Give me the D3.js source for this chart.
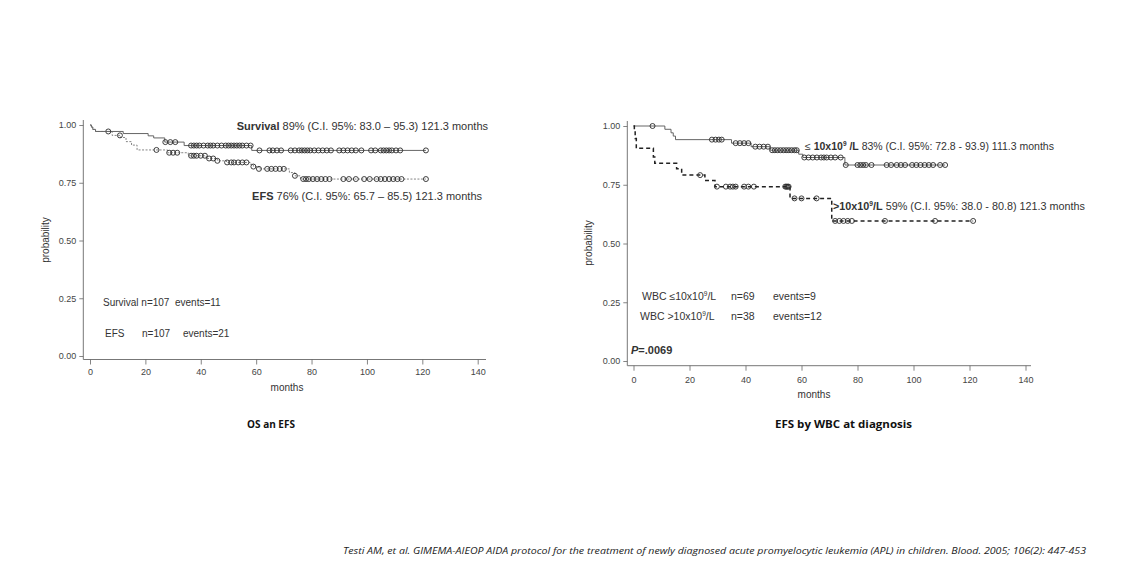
<!DOCTYPE html>
<html lang="en">
<head>
<meta charset="UTF-8">
<title>OS and EFS - AIDA protocol</title>
<style>
    body { margin: 0; background: #fff; }
    svg { display: block; }
    text { font-family: "Liberation Sans", Arial, sans-serif; fill: #333; }
    .tick text { font-size: 9px; fill: #444; }
    .tick line { stroke: #666; stroke-width: 0.8px; }
    .axis-line { stroke: #777; stroke-width: 1px; }
    .censor { fill: none; stroke: #2a2a2a; stroke-width: 0.9px; }
    .caption { font-family: "Open Sans", sans-serif; font-weight: bold; font-size: 10px; fill: #111; }
</style>
</head>
<body>
<svg id="chart" width="1131" height="579"></svg>
<script src="https://d3js.org/d3.v7.min.js"></script>
<script>
// ---- data ----
const xTicks = [0, 20, 40, 60, 80, 100, 120, 140];
const yTicks = [0, 0.25, 0.5, 0.75, 1];

// left panel: OS and EFS, all patients
const survTimes = [0, 0.5, 1, 2, 12, 21, 23, 27, 34, 58.4, 121.3];
const survProb  = [1, .991, .981, .972, .963, .953, .944, .926, .911, .89, .89];
const survCensor = [6.6, 27.2, 29, 30.8, 36.5, 37.5, 38.5, 39.5, 41, 42.5, 43.5, 44.5, 46, 47.5, 49, 50,
    51, 52, 53, 54, 55, 56.5, 58, 61.2, 64.8, 66, 67.5, 69, 72.5, 74, 75.5, 76.5, 77.5, 78.5, 79.5, 81,
    82.5, 84, 85.5, 87, 90, 91.5, 93, 94.5, 96, 98, 101.5, 103, 105, 106, 107, 108, 109, 110.5, 112, 121.3];

const efsTimes = [0, 0.5, 1, 2, 8, 11, 13, 15, 17, 28, 35.5, 42, 46, 49.3, 57.8, 59, 61, 72, 74, 76, 121.3];
const efsProb  = [1, .991, .981, .972, .955, .946, .928, .913, .892, .88, .867, .855, .845, .838, .83, .82,
    .81, .794, .78, .766, .766];
const efsCensor = [10.8, 24, 28.6, 30, 31.5, 36.5, 37.5, 38.5, 40, 41.5, 43, 44.5, 46, 49.5, 51, 52, 53.5,
    55, 56.5, 59, 61, 64, 65.5, 67, 68.5, 70, 74, 77, 78, 79, 80.5, 82, 83.5, 85, 86.5, 91.5, 93.5, 96, 99,
    101, 103.5, 105, 106.5, 108, 109.5, 111, 112.5, 121.3];

// right panel: EFS by WBC at diagnosis
const lowTimes = [0, 11.2, 13.4, 14.2, 15, 35, 42, 48.8, 59, 60.5, 75.5, 111.3];
const lowProb  = [1, .986, .971, .957, .942, .927, .912, .897, .88, .866, .834, .834];
const lowCensor = [6.8, 28, 29.3, 30.5, 31.5, 36.5, 38, 39.5, 41, 43.5, 45, 46.5, 48, 49.5, 50.5, 51.5,
    52.5, 53.5, 54.5, 55.5, 56.5, 57.5, 58.3, 61, 62.5, 64, 65.5, 67, 68, 69, 70.5, 72, 74, 75.8, 80, 81,
    82, 83, 85, 90.4, 92, 94, 95.5, 97, 99.5, 101, 102.5, 104, 105.5, 107, 109.5, 111.3];

const highTimes = [0, 0.3, 0.6, 1, 7.1, 7.6, 15.4, 17.2, 25.5, 29.1, 55.9, 70.8, 121.3];
const highProb  = [1, .974, .947, .905, .868, .841, .818, .791, .768, .742, .692, .596, .596];
const highCensor = [23.8, 29.8, 33, 34.5, 35.5, 36.5, 39.5, 41, 43, 54.2, 54.6, 55, 55.4, 57.5, 60, 65.4,
    72, 73.5, 75, 76.5, 78, 89.8, 107.7, 121.3];

const svg = d3.select("#chart");
svg.append("rect").attr("width", 1131).attr("height", 579).attr("fill", "#fff");

// value of a step curve at time t
function stepAt(times, probs, t) {
    const i = d3.bisectRight(times, t) - 1;
    return probs[Math.max(0, i)];
}

// append "10x10^9" style pieces: parts = [[text, bold, sup], ...]
function richText(sel, parts, size) {
    parts.forEach(p => {
        const ts = sel.append("tspan").text(p[0]);
        if (p[1]) ts.style("font-weight", "bold");
        if (p[2]) ts.style("font-size", (size * 0.62) + "px").attr("dy", -size * 0.38);
        if (p[3]) ts.attr("dy", size * 0.38);
    });
}

function drawPanel(p) {
    const g = svg.append("g");
    const x = d3.scaleLinear().domain([0, 140]).range(p.xRange);
    const y = d3.scaleLinear().domain([0, 1]).range(p.yRange);

    // axis lines (offset from the data area, R style)
    g.append("line").attr("class", "axis-line")
        .attr("x1", p.axisX).attr("x2", p.axisX).attr("y1", p.yTop).attr("y2", p.axisY);
    g.append("line").attr("class", "axis-line")
        .attr("x1", p.axisX).attr("x2", p.xRight).attr("y1", p.axisY).attr("y2", p.axisY);

    const xa = g.append("g").attr("transform", "translate(0," + p.axisY + ")")
        .call(d3.axisBottom(x).tickValues(xTicks).tickSize(p.xTick).tickPadding(p.xPad).tickFormat(d3.format("d")));
    xa.select(".domain").remove();

    const ya = g.append("g").attr("transform", "translate(" + p.axisX + ",0)")
        .call(d3.axisLeft(y).tickValues(yTicks).tickSize(4).tickPadding(p.yPad).tickFormat(d3.format(".2f")));
    ya.select(".domain").remove();

    g.append("text").attr("x", p.monthsX).attr("y", p.monthsY)
        .attr("text-anchor", "middle").style("font-size", "10px").text("months");
    g.append("text").attr("transform", "translate(" + p.probX + "," + p.probY + ") rotate(-90)")
        .attr("text-anchor", "middle").style("font-size", "10px").text("probability");

    const line = d3.line().curve(d3.curveStepAfter).x(d => x(d[0])).y(d => y(d[1]));

    p.curves.forEach(c => {
        g.append("path")
            .datum(d3.zip(c.times, c.probs))
            .attr("d", line)
            .attr("fill", "none")
            .attr("stroke", c.color)
            .attr("stroke-width", c.width)
            .attr("stroke-dasharray", c.dash);
        g.selectAll(null).data(c.censor).enter().append("circle")
            .attr("class", "censor")
            .attr("cx", d => x(d))
            .attr("cy", d => y(stepAt(c.times, c.probs, d)))
            .attr("r", 2.5);
    });
    return g;
}

// left panel
const left = drawPanel({
    xRange: [90, 477.7], yRange: [356, 125],
    axisX: 83.3, axisY: 359.5, yTop: 120, xRight: 486,
    xTick: 5, xPad: 4, yPad: 3,
    monthsX: 287, monthsY: 391, probX: 49, probY: 240,
    curves: [
        { times: survTimes, probs: survProb, censor: survCensor, color: "#555", width: 0.9, dash: null },
        { times: efsTimes, probs: efsProb, censor: efsCensor, color: "#666", width: 0.8, dash: "2,1.5" }
    ]
});

const lt1 = left.append("text").attr("x", 488).attr("y", 130).attr("text-anchor", "end").style("font-size", "11px");
lt1.append("tspan").style("font-weight", "bold").text("Survival");
lt1.append("tspan").text(" 89% (C.I. 95%: 83.0 \u2013 95.3) 121.3 months");
const lt2 = left.append("text").attr("x", 482).attr("y", 200).attr("text-anchor", "end").style("font-size", "11px");
lt2.append("tspan").style("font-weight", "bold").text("EFS");
lt2.append("tspan").text(" 76% (C.I. 95%: 65.7 \u2013 85.5) 121.3 months");

left.append("text").attr("x", 103).attr("y", 306).style("font-size", "10px")
    .attr("xml:space", "preserve").text("Survival n=107  events=11");
left.append("text").attr("x", 105).attr("y", 337).style("font-size", "10px").text("EFS");
left.append("text").attr("x", 142).attr("y", 337).style("font-size", "10px").text("n=107");
left.append("text").attr("x", 183).attr("y", 337).style("font-size", "10px").text("events=21");

// right panel
const right = drawPanel({
    xRange: [633.5, 1025.5], yRange: [361, 126],
    axisX: 627.3, axisY: 365.7, yTop: 121, xRight: 1031,
    xTick: 5, xPad: 6, yPad: 3,
    monthsX: 814, monthsY: 398, probX: 592, probY: 243,
    curves: [
        { times: lowTimes, probs: lowProb, censor: lowCensor, color: "#555", width: 0.9, dash: null },
        { times: highTimes, probs: highProb, censor: highCensor, color: "#222", width: 1.5, dash: "4,3" }
    ]
});

const rt1 = right.append("text").attr("x", 805).attr("y", 150).style("font-size", "10.5px");
richText(rt1, [["\u2264 "], ["10x10", true], ["9", true, true], [" /L", true, false, true],
    [" 83% (C.I. 95%: 72.8 - 93.9) 111.3 months"]], 10.5);
const rt2 = right.append("text").attr("x", 833).attr("y", 210).style("font-size", "10.8px");
richText(rt2, [[">10x10", true], ["9", true, true], ["/L", true, false, true],
    [" 59% (C.I. 95%: 38.0 - 80.8) 121.3 months"]], 10.8);

const wbcRows = [
    { y: 300, x: 642, parts: [["WBC \u226410x10"], ["9", false, true], ["/L", false, false, true]], n: "n=69", ev: "events=9" },
    { y: 320, x: 640, parts: [["WBC >10x10"], ["9", false, true], ["/L", false, false, true]], n: "n=38", ev: "events=12" }
];
wbcRows.forEach(r => {
    const t = right.append("text").attr("x", r.x).attr("y", r.y).style("font-size", "10.5px");
    richText(t, r.parts, 10.5);
    right.append("text").attr("x", 731).attr("y", r.y).style("font-size", "10.5px").text(r.n);
    right.append("text").attr("x", 773).attr("y", r.y).style("font-size", "10.5px").text(r.ev);
});
const pv = right.append("text").attr("x", 631).attr("y", 354).style("font-size", "11px").style("font-weight", "bold");
pv.append("tspan").style("font-style", "italic").text("P");
pv.append("tspan").text("=.0069");

// captions
svg.append("text").attr("class", "caption").attr("x", 271).attr("y", 428)
    .attr("text-anchor", "middle").text("OS an EFS");
svg.append("text").attr("class", "caption").attr("x", 775).attr("y", 428)
    .style("font-size", "10.5px")
    .attr("textLength", 137).attr("lengthAdjust", "spacingAndGlyphs")
    .text("EFS by WBC at diagnosis");

svg.append("text").attr("x", 343).attr("y", 554)
    .style("font-family", "'Open Sans', sans-serif").style("font-style", "italic").style("font-size", "8.5px")
    .style("fill", "#222")
    .attr("textLength", 743).attr("lengthAdjust", "spacingAndGlyphs")
    .text("Testi AM, et al. GIMEMA-AIEOP AIDA protocol for the treatment  of newly diagnosed acute promyelocytic leukemia (APL) in children. Blood. 2005; 106(2): 447-453");
</script>
</body>
</html>
